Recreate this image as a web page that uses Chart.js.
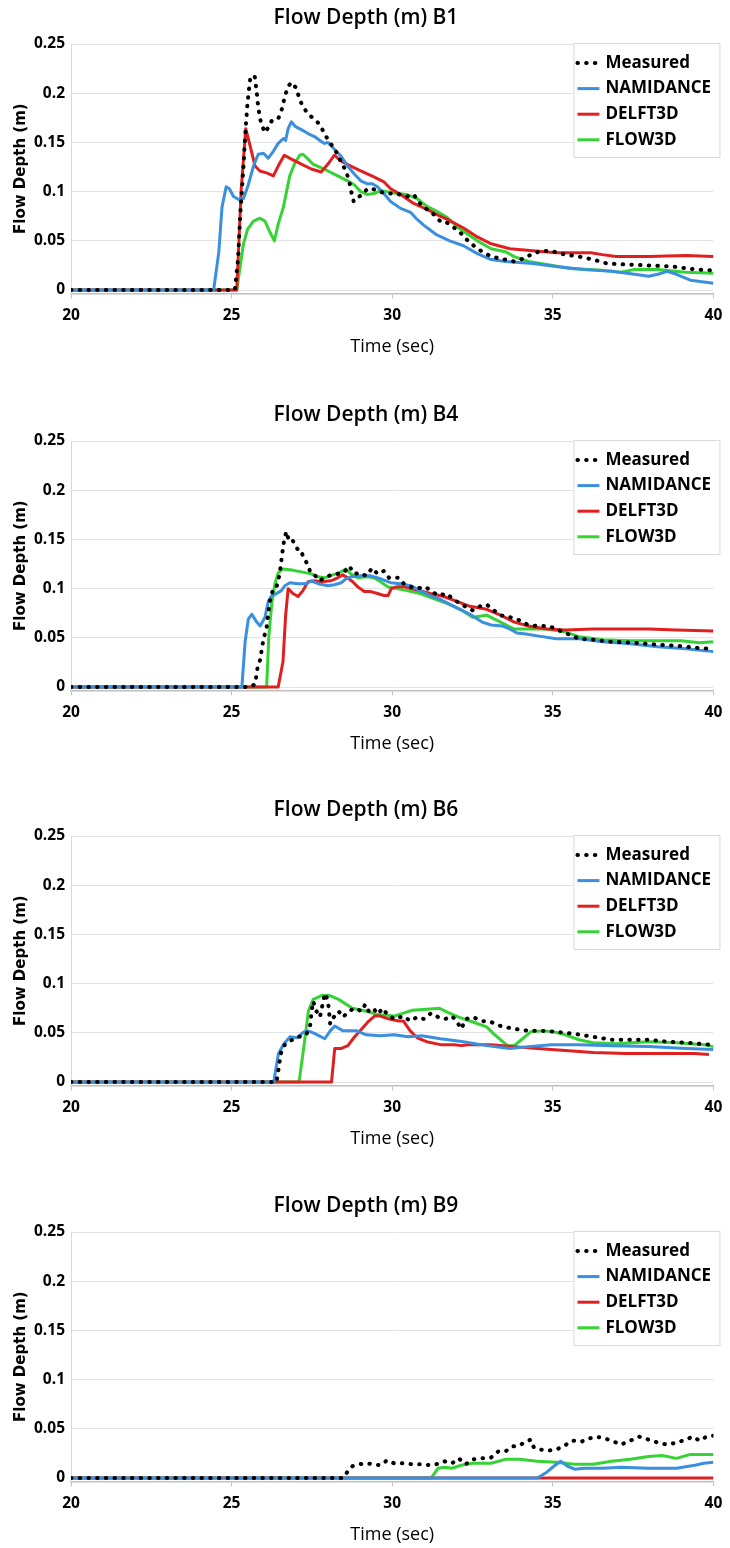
<!DOCTYPE html>
<html>
<head>
<meta charset="utf-8">
<title>Flow Depth</title>
<script src="https://cdn.jsdelivr.net/npm/chart.js@4.4.1/dist/chart.umd.min.js"></script>
<style>
  html, body { margin: 0; padding: 0; background: #fff; }
  body { width: 730px; height: 1548px; position: relative; overflow: hidden; }
  .panel { position: absolute; left: 0; width: 730px; height: 360px; }
</style>
</head>
<body>
<div class="panel" style="top:0px"><canvas id="chartB1" width="730" height="360"></canvas></div>
<div class="panel" style="top:397px"><canvas id="chartB4" width="730" height="360"></canvas></div>
<div class="panel" style="top:792px"><canvas id="chartB6" width="730" height="360"></canvas></div>
<div class="panel" style="top:1188px"><canvas id="chartB9" width="730" height="360"></canvas></div>
<script>
// axis ticks
const timeTicks = [20, 25, 30, 35, 40];
const depthTicks = [0, 0.05, 0.1, 0.15, 0.2, 0.25];
const seriesNames = ["Measured", "NAMIDANCE", "DELFT3D", "FLOW3D"];

// [time (s), flow depth (m)]
const b1Measured = [[20,0],[25.1,0],[25.2,0.031],[25.27,0.077],[25.37,0.126],[25.44,0.166],[25.5,0.192],[25.58,0.215],[25.65,0.218],[25.72,0.217],[25.78,0.202],[25.83,0.185],[25.92,0.169],[26.04,0.16],[26.14,0.165],[26.25,0.172],[26.45,0.174],[26.55,0.182],[26.66,0.197],[26.76,0.207],[26.86,0.211],[27.02,0.205],[27.12,0.193],[27.25,0.185],[27.4,0.178],[27.53,0.175],[27.69,0.17],[27.81,0.164],[27.94,0.156],[28.1,0.148],[28.28,0.139],[28.41,0.13],[28.56,0.121],[28.66,0.111],[28.71,0.102],[28.8,0.09],[28.92,0.094],[29.07,0.097],[29.23,0.103],[29.38,0.103],[29.59,0.1],[29.85,0.098],[30.05,0.098],[30.26,0.097],[30.46,0.095],[30.67,0.097],[30.82,0.09],[30.93,0.085],[31.08,0.082],[31.29,0.077],[31.49,0.07],[31.64,0.07],[32.07,0.06],[32.36,0.05],[32.65,0.042],[33.08,0.034],[33.52,0.031],[33.8,0.029],[34.09,0.032],[34.38,0.037],[34.67,0.04],[35.03,0.039],[35.39,0.036],[35.82,0.034],[36.25,0.031],[36.69,0.027],[37.26,0.026],[37.98,0.025],[38.7,0.024],[39.42,0.021],[39.93,0.02]];
const b1Namidance = [[20,0],[24.44,0],[24.6,0.038],[24.7,0.084],[24.83,0.105],[24.93,0.103],[25.06,0.095],[25.22,0.092],[25.37,0.093],[25.52,0.107],[25.68,0.126],[25.83,0.138],[25.99,0.139],[26.14,0.134],[26.3,0.141],[26.45,0.149],[26.61,0.154],[26.68,0.152],[26.76,0.164],[26.86,0.171],[26.99,0.166],[27.17,0.163],[27.38,0.159],[27.58,0.156],[27.79,0.151],[27.89,0.149],[28,0.15],[28.2,0.143],[28.41,0.136],[28.61,0.126],[28.82,0.118],[29.02,0.111],[29.23,0.108],[29.38,0.108],[29.54,0.105],[29.74,0.098],[29.95,0.09],[30.26,0.083],[30.57,0.079],[30.77,0.072],[30.98,0.066],[31.18,0.061],[31.39,0.056],[31.79,0.05],[32.22,0.045],[32.65,0.037],[33.08,0.031],[33.52,0.029],[34.38,0.027],[35.1,0.024],[35.97,0.021],[36.83,0.019],[37.55,0.016],[37.98,0.014],[38.27,0.016],[38.56,0.019],[38.85,0.016],[39.28,0.01],[40,0.007]];
const b1Delft = [[20,0],[25.16,0],[25.3,0.103],[25.44,0.164],[25.58,0.146],[25.73,0.126],[25.88,0.121],[26.09,0.119],[26.3,0.116],[26.45,0.126],[26.64,0.137],[26.86,0.133],[27.17,0.128],[27.48,0.123],[27.79,0.12],[28,0.128],[28.2,0.137],[28.41,0.131],[28.71,0.126],[29.02,0.121],[29.43,0.115],[29.74,0.11],[29.95,0.103],[30.26,0.097],[30.67,0.088],[31.08,0.082],[31.49,0.075],[31.7,0.072],[32.22,0.063],[32.65,0.054],[33.08,0.047],[33.66,0.042],[34.38,0.04],[35.1,0.038],[36.18,0.038],[36.54,0.036],[36.97,0.034],[37.98,0.034],[39.14,0.035],[40,0.034]];
const b1Flow = [[20,0],[25.16,0],[25.27,0.025],[25.37,0.047],[25.5,0.062],[25.68,0.07],[25.88,0.073],[26.04,0.07],[26.16,0.061],[26.33,0.05],[26.45,0.067],[26.61,0.084],[26.71,0.1],[26.81,0.116],[26.97,0.129],[27.12,0.137],[27.22,0.138],[27.38,0.133],[27.53,0.128],[27.74,0.125],[28,0.121],[28.3,0.116],[28.61,0.111],[28.82,0.107],[29.02,0.1],[29.23,0.097],[29.43,0.098],[29.64,0.101],[29.85,0.1],[30.15,0.098],[30.46,0.097],[30.77,0.093],[31.08,0.085],[31.39,0.08],[31.7,0.074],[32.07,0.063],[32.65,0.05],[33.08,0.042],[33.52,0.039],[33.8,0.034],[34.24,0.029],[34.81,0.026],[35.53,0.022],[36.54,0.02],[37.12,0.018],[37.55,0.021],[38.27,0.021],[39.14,0.018],[40,0.017]];

const b4Measured = [[20,0],[25.58,0],[25.73,0.003],[25.81,0.02],[25.89,0.028],[25.96,0.043],[26.02,0.052],[26.09,0.061],[26.14,0.075],[26.19,0.087],[26.27,0.097],[26.35,0.098],[26.43,0.105],[26.5,0.116],[26.57,0.134],[26.64,0.151],[26.71,0.158],[26.78,0.149],[26.88,0.15],[26.99,0.144],[27.07,0.139],[27.15,0.139],[27.25,0.131],[27.36,0.125],[27.46,0.116],[27.58,0.114],[27.74,0.108],[27.89,0.111],[28.1,0.114],[28.3,0.115],[28.51,0.117],[28.66,0.123],[28.82,0.115],[29.02,0.116],[29.18,0.113],[29.38,0.121],[29.54,0.115],[29.74,0.118],[29.9,0.111],[30.21,0.111],[30.36,0.105],[30.57,0.102],[30.77,0.1],[31.03,0.102],[31.23,0.097],[31.44,0.093],[31.7,0.095],[31.9,0.089],[32.16,0.084],[32.42,0.079],[32.5,0.078],[32.72,0.082],[32.94,0.084],[33.16,0.078],[33.37,0.073],[33.66,0.071],[33.95,0.068],[34.24,0.063],[34.53,0.062],[34.88,0.062],[35.1,0.059],[35.46,0.054],[35.82,0.049],[36.25,0.048],[36.83,0.046],[37.55,0.045],[38.27,0.043],[38.85,0.042],[39.42,0.04],[39.86,0.039]];
const b4Namidance = [[20,0],[25.32,0],[25.42,0.046],[25.52,0.069],[25.63,0.074],[25.78,0.066],[25.89,0.062],[26.04,0.071],[26.14,0.087],[26.25,0.093],[26.4,0.095],[26.55,0.098],[26.66,0.103],[26.81,0.106],[27.07,0.105],[27.33,0.105],[27.48,0.108],[27.69,0.105],[28,0.103],[28.2,0.104],[28.41,0.106],[28.56,0.11],[28.71,0.112],[29.02,0.113],[29.33,0.113],[29.64,0.11],[29.95,0.106],[30.26,0.105],[30.57,0.103],[30.87,0.098],[31.18,0.093],[31.49,0.089],[31.8,0.084],[32.11,0.079],[32.42,0.074],[32.8,0.066],[33.08,0.063],[33.44,0.062],[33.66,0.059],[33.88,0.055],[34.16,0.054],[34.52,0.052],[35.1,0.049],[35.82,0.049],[36.54,0.046],[37.41,0.044],[38.27,0.041],[39.14,0.039],[40,0.036]];
const b4Delft = [[20,0],[26.45,0],[26.6,0.026],[26.68,0.072],[26.76,0.1],[26.91,0.095],[27.07,0.092],[27.22,0.098],[27.38,0.107],[27.58,0.108],[27.79,0.107],[28.1,0.108],[28.3,0.111],[28.46,0.114],[28.61,0.111],[28.77,0.107],[28.92,0.102],[29.13,0.097],[29.33,0.097],[29.54,0.095],[29.74,0.093],[29.87,0.093],[29.97,0.1],[30.15,0.102],[30.36,0.102],[30.57,0.1],[30.87,0.098],[31.18,0.095],[31.6,0.092],[32.01,0.087],[32.42,0.082],[32.94,0.079],[33.37,0.073],[33.8,0.066],[34.24,0.062],[34.81,0.059],[35.39,0.058],[36.25,0.059],[37.12,0.059],[37.98,0.059],[38.85,0.058],[40,0.057]];
const b4Flow = [[20,0],[26.09,0],[26.16,0.052],[26.25,0.085],[26.35,0.105],[26.45,0.116],[26.6,0.12],[26.86,0.119],[27.17,0.117],[27.48,0.115],[27.69,0.112],[27.89,0.111],[28.15,0.114],[28.41,0.117],[28.56,0.12],[28.71,0.115],[28.92,0.111],[29.23,0.112],[29.43,0.111],[29.64,0.107],[29.85,0.102],[30.15,0.1],[30.46,0.098],[30.87,0.095],[31.29,0.09],[31.7,0.085],[32.11,0.079],[32.5,0.071],[32.94,0.073],[33.37,0.066],[33.8,0.059],[34.24,0.059],[34.81,0.059],[35.39,0.056],[35.82,0.051],[36.54,0.048],[37.41,0.047],[38.27,0.047],[38.99,0.047],[39.57,0.045],[40,0.046]];

const b6Measured = [[20,0],[26.4,0],[26.46,0.013],[26.53,0.029],[26.67,0.039],[26.89,0.043],[27.1,0.046],[27.32,0.048],[27.44,0.056],[27.49,0.072],[27.54,0.082],[27.64,0.072],[27.75,0.066],[27.87,0.085],[27.93,0.09],[28.01,0.079],[28.07,0.059],[28.18,0.066],[28.33,0.072],[28.47,0.066],[28.65,0.072],[28.83,0.075],[29.05,0.072],[29.16,0.079],[29.27,0.072],[29.41,0.075],[29.55,0.069],[29.7,0.075],[29.84,0.069],[30.06,0.064],[30.35,0.067],[30.56,0.062],[30.78,0.066],[30.99,0.064],[31.21,0.07],[31.43,0.066],[31.64,0.064],[31.86,0.067],[32,0.062],[32.15,0.054],[32.29,0.064],[32.51,0.066],[32.8,0.062],[33.08,0.061],[33.37,0.057],[33.8,0.054],[34.24,0.052],[34.67,0.052],[35.1,0.051],[35.68,0.049],[36.25,0.046],[36.83,0.043],[37.41,0.043],[37.98,0.043],[38.56,0.041],[39.14,0.04],[39.86,0.038]];
const b6Namidance = [[20,0],[26.31,0],[26.46,0.029],[26.63,0.039],[26.82,0.046],[27.03,0.045],[27.25,0.051],[27.39,0.052],[27.61,0.049],[27.9,0.044],[28.07,0.052],[28.21,0.057],[28.47,0.052],[28.9,0.052],[29.19,0.048],[29.63,0.047],[30.06,0.048],[30.49,0.046],[30.92,0.047],[31.5,0.044],[32.22,0.041],[32.94,0.037],[33.66,0.034],[34.24,0.036],[34.96,0.038],[35.82,0.038],[36.83,0.037],[37.98,0.036],[39.14,0.034],[40,0.033]];
const b6Delft = [[20,0],[28.11,0],[28.21,0.034],[28.4,0.034],[28.62,0.037],[28.83,0.046],[29.05,0.054],[29.27,0.062],[29.45,0.067],[29.63,0.067],[29.91,0.064],[30.2,0.062],[30.35,0.062],[30.56,0.052],[30.78,0.045],[31.07,0.041],[31.5,0.038],[31.93,0.038],[32.15,0.037],[32.36,0.038],[33.08,0.038],[33.8,0.036],[34.52,0.034],[35.39,0.032],[36.25,0.03],[37.26,0.029],[38.27,0.029],[39.42,0.029],[39.86,0.028]];
const b6Flow = [[20,0],[27.1,0],[27.25,0.036],[27.39,0.072],[27.54,0.084],[27.82,0.088],[28.04,0.088],[28.33,0.084],[28.76,0.075],[29.19,0.072],[29.48,0.069],[29.77,0.068],[30.06,0.067],[30.35,0.07],[30.63,0.073],[31.07,0.074],[31.47,0.075],[31.71,0.071],[32.07,0.066],[32.51,0.061],[32.94,0.056],[33.16,0.049],[33.37,0.043],[33.59,0.037],[33.8,0.037],[34.02,0.043],[34.31,0.051],[34.67,0.052],[35.03,0.051],[35.39,0.048],[35.82,0.043],[36.25,0.04],[36.97,0.039],[37.98,0.041],[38.85,0.04],[39.71,0.038],[40,0.036]];

const b9Measured = [[20,0],[28.47,0],[28.62,0.007],[28.76,0.012],[28.98,0.014],[29.19,0.015],[29.41,0.014],[29.63,0.013],[29.84,0.018],[30.06,0.015],[30.35,0.015],[30.63,0.014],[30.92,0.014],[31.21,0.013],[31.5,0.015],[31.64,0.017],[31.86,0.015],[32.07,0.02],[32.29,0.014],[32.51,0.019],[32.8,0.02],[33.08,0.021],[33.3,0.027],[33.52,0.027],[33.73,0.032],[33.95,0.033],[34.16,0.037],[34.31,0.039],[34.41,0.031],[34.6,0.029],[34.88,0.028],[35.1,0.029],[35.32,0.032],[35.61,0.038],[35.89,0.037],[36.11,0.04],[36.33,0.042],[36.54,0.041],[36.83,0.038],[37.12,0.034],[37.41,0.038],[37.69,0.042],[37.98,0.039],[38.27,0.036],[38.56,0.034],[38.85,0.036],[39.14,0.039],[39.35,0.042],[39.57,0.038],[39.78,0.042],[40,0.043]];
const b9Namidance = [[20,0],[34.52,0],[34.81,0.006],[35.03,0.012],[35.24,0.017],[35.46,0.012],[35.68,0.009],[35.97,0.01],[36.54,0.01],[37.12,0.011],[37.98,0.01],[38.85,0.01],[39.42,0.013],[39.71,0.015],[40,0.016]];
const b9Delft = [[20,0],[40,0]];
const b9Flow = [[20,0],[31.21,0],[31.43,0.01],[31.64,0.011],[31.86,0.01],[32.15,0.013],[32.51,0.015],[33.08,0.015],[33.52,0.019],[33.95,0.019],[34.52,0.017],[35.1,0.016],[35.68,0.014],[36.25,0.014],[36.83,0.017],[37.41,0.019],[37.98,0.022],[38.41,0.023],[38.85,0.02],[39.28,0.024],[40,0.024]];

const lineColors = ["#000000", "#3a8fde", "#e02020", "#35d335"];

// boxed legend sitting in the top-right corner of the plot
const boxLegend = {
  id: "boxLegend",
  afterDatasetsDraw(chart) {
    const { ctx, chartArea } = chart;
    const left = chartArea.right - 140;
    const top = chartArea.top - 1;
    const w = 146, h = 114;
    ctx.save();
    ctx.fillStyle = "#fff";
    ctx.fillRect(left, top, w, h);
    ctx.strokeStyle = "#d9d9d9";
    ctx.lineWidth = 1;
    ctx.strokeRect(left + 0.5, top + 0.5, w, h);
    chart.data.datasets.forEach((ds, i) => {
      const y = top + 20 + i * 25.6;
      ctx.beginPath();
      ctx.setLineDash(ds.borderDash || []);
      ctx.lineCap = ds.borderCapStyle || "butt";
      ctx.strokeStyle = ds.borderColor;
      ctx.lineWidth = ds.borderWidth;
      ctx.moveTo(left + 4, y);
      ctx.lineTo(left + 26, y);
      ctx.stroke();
      ctx.setLineDash([]);
      ctx.fillStyle = "#000";
      ctx.font = "bold 17px 'Open Sans'";
      ctx.textBaseline = "middle";
      ctx.textAlign = "left";
      ctx.fillText(ds.label, left + 32, y);
    });
    ctx.restore();
  }
};

function makeChart(id, title, series) {
  const datasets = series.map((data, i) => {
    const ds = {
      label: seriesNames[i],
      data: data,
      borderColor: lineColors[i],
      borderWidth: 3,
      borderJoinStyle: "round",
      pointRadius: 0,
      fill: false,
    };
    if (i === 0) {
      ds.borderWidth = 4;
      ds.borderDash = [0.5, 8.2];
      ds.borderCapStyle = "round";
    }
    return ds;
  });

  const tickFont = { family: "Open Sans", size: 15.5, weight: "bold" };

  return new Chart(document.getElementById(id), {
    type: "line",
    data: { datasets },
    options: {
      responsive: false,
      animation: false,
      devicePixelRatio: 1,
      layout: { padding: { left: 15.5, right: 13.5, top: 0, bottom: 2.2 } },
      plugins: {
        legend: { display: false },
        tooltip: { enabled: false },
        title: {
          display: true,
          text: title,
          color: "#000",
          font: { family: "Open Sans", size: 21, weight: "600" },
          padding: { top: 5.4, bottom: 13.4 },
        },
      },
      scales: {
        x: {
          type: "linear",
          min: 20,
          max: 40,
          afterBuildTicks: (s) => { s.ticks = timeTicks.map((v) => ({ value: v })); },
          ticks: { font: tickFont, color: "#000", padding: 7.7, maxRotation: 0, autoSkip: false, callback: (v) => String(v) },
          grid: { drawOnChartArea: false, tickLength: 5, color: "#bfbfbf" },
          border: { color: "#bfbfbf", width: 1.5 },
          title: {
            display: true,
            text: "Time (sec)",
            color: "#000",
            font: { family: "Open Sans", size: 18 },
            padding: { top: 3.9, bottom: 0 },
          },
        },
        y: {
          type: "linear",
          min: -0.0033,
          max: 0.25,
          afterFit: (s) => { s.width = 55.5; },
          afterBuildTicks: (s) => { s.ticks = depthTicks.map((v) => ({ value: v })); },
          ticks: { font: tickFont, color: "#000", padding: 6, callback: (v) => String(v) },
          grid: { color: "#e3e3e3", drawTicks: false },
          border: { color: "#d9d9d9", width: 1 },
          title: {
            display: true,
            text: "Flow Depth (m)",
            color: "#000",
            font: { family: "DejaVu Sans", size: 15, weight: "bold" },
            padding: { top: -3.5, bottom: 0 },
          },
        },
      },
    },
    plugins: [boxLegend],
  });
}

makeChart("chartB1", "Flow Depth (m) B1", [b1Measured, b1Namidance, b1Delft, b1Flow]);
makeChart("chartB4", "Flow Depth (m) B4", [b4Measured, b4Namidance, b4Delft, b4Flow]);
makeChart("chartB6", "Flow Depth (m) B6", [b6Measured, b6Namidance, b6Delft, b6Flow]);
makeChart("chartB9", "Flow Depth (m) B9", [b9Measured, b9Namidance, b9Delft, b9Flow]);
</script>
</body>
</html>
